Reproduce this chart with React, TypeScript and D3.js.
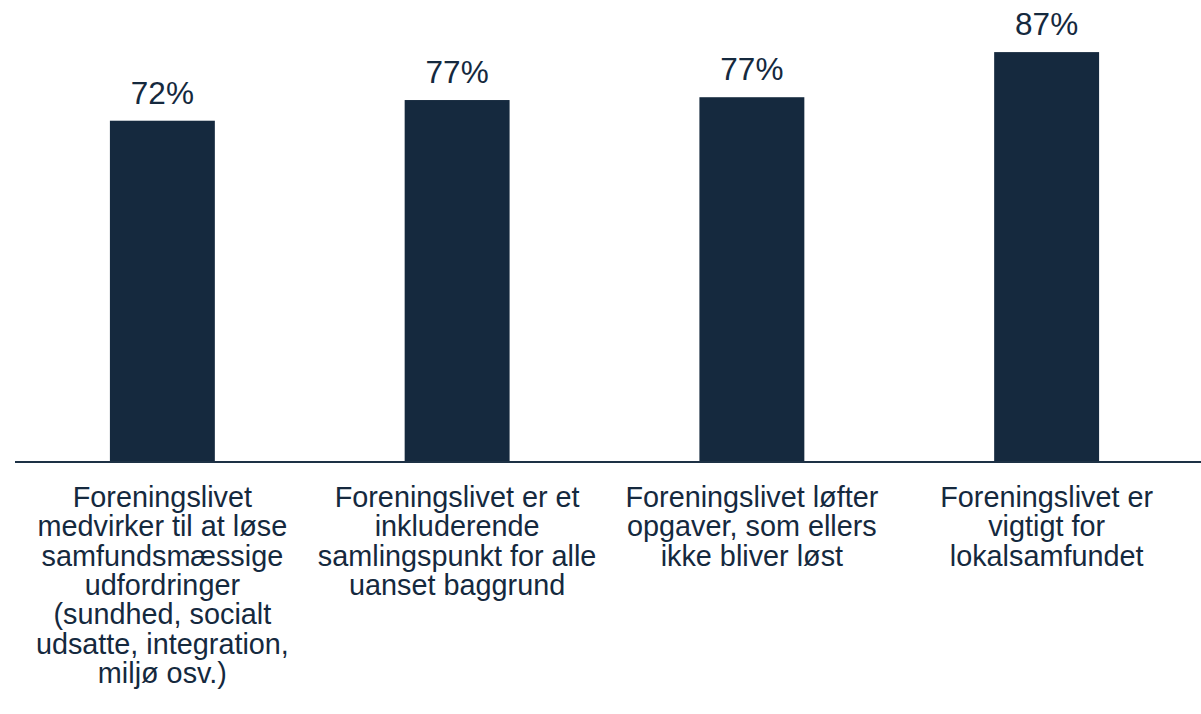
import React from 'react'
import * as d3 from 'd3'

// survey statements, one per bar
const categories = [
  ['Foreningslivet', 'medvirker til at løse', 'samfundsmæssige', 'udfordringer', '(sundhed, socialt', 'udsatte, integration,', 'miljø osv.)'],
  ['Foreningslivet er et', 'inkluderende', 'samlingspunkt for alle', 'uanset baggrund'],
  ['Foreningslivet løfter', 'opgaver, som ellers', 'ikke bliver løst'],
  ['Foreningslivet er', 'vigtigt for', 'lokalsamfundet'],
]
const values = [72.4, 76.8, 77.4, 87.0]

const width = 1201
const height = 714
const baseline = 461
const navy = '#15293e'

const App = () => {
  const xScale = d3.scaleBand<number>()
    .domain(d3.range(values.length))
    .range([15, 1194])
    .paddingInner(0.644)
    .paddingOuter(0.322)
  const yScale = d3.scaleLinear().domain([0, 100]).range([baseline, baseline - 470])

  return <svg width={width} height={height} style={{position: 'absolute', left: 0, top: 0}}
    fontFamily='"Liberation Sans", Arial, sans-serif'>
    <g>
      {values.map((v, i) => <rect key={i} x={xScale(i)} y={yScale(v)} width={xScale.bandwidth()}
        height={yScale(0) - yScale(v)} fill={navy}></rect>)}
    </g>
    <g>
      {values.map((v, i) => <text key={i} x={xScale(i)! + xScale.bandwidth() / 2} y={yScale(v) - 17}
        textAnchor="middle" fontSize={31.5} fill={navy}>{d3.format('.0f')(v)}%</text>)}
    </g>
    <line x1={15} x2={width} y1={baseline + 1} y2={baseline + 1} stroke="#1d3145" strokeWidth={2}></line>
    <g>
      {categories.map((lines, i) => <text key={i} textAnchor="middle" fontSize={28.8} fill={navy}>
        {lines.map((l, j) => <tspan key={j} x={xScale(i)! + xScale.bandwidth() / 2} y={507 + j * 29.3}>{l}</tspan>)}
      </text>)}
    </g>
  </svg>
}

export default App
